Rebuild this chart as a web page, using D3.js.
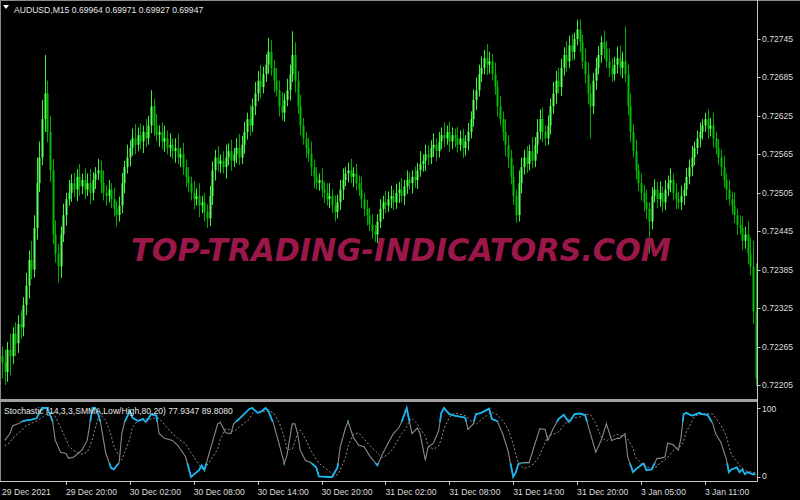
<!DOCTYPE html>
<html>
<head>
<meta charset="utf-8">
<script src="https://cdn.jsdelivr.net/npm/d3@7/dist/d3.min.js"></script>
<style>
body { margin: 0; background: #000; }
svg { display: block; }
</style>
</head>
<body>
<svg width="800" height="500"></svg>
<script>
// closes in points above 0.72000 (M15 bars), open = previous close
var closes = [
  240,225,260,250,285,270,300,295,330,360,
  400,385,450,520,560,620,660,600,540,440,
  410,390,440,470,495,505,520,510,530,515,
  525,510,520,505,525,535,540,520,505,500,
  510,495,480,470,485,520,545,560,575,590,
  580,595,585,600,590,610,640,610,595,600,
  585,590,575,580,570,575,560,565,545,530,
  520,505,495,500,485,490,475,465,500,540,
  560,550,555,545,560,570,555,565,575,560,
  580,600,620,610,640,660,680,670,690,705,
  725,700,680,665,640,630,650,665,690,720,
  680,640,610,590,575,565,545,530,520,525,
  510,505,495,500,485,475,490,510,525,535,
  540,530,535,520,510,495,480,470,455,445,
  440,460,480,490,485,495,500,490,505,510,
  500,515,525,520,530,525,540,550,555,565,
  560,575,580,570,585,595,590,600,585,595,
  590,580,590,575,585,600,620,650,665,690,
  700,715,705,710,690,670,640,620,600,580,
  560,530,500,470,520,545,560,550,570,555,
  580,600,620,600,590,610,640,660,680,670,
  700,720,710,735,725,745,760,740,710,690,
  660,640,680,700,720,740,730,710,700,690,
  705,715,700,710,690,640,600,570,540,520,
  505,490,480,460,500,510,495,505,490,510,
  520,525,505,495,490,500,510,530,545,560,
  575,590,600,610,620,605,610,590,575,560,
  545,525,510,495,485,470,455,450,430,440,
  410,390,320,215
];
var wickUp = [
  15,20,12,25,10,18,14,22,12,20, 15,30,20,40,25,30,60,20,25,18,
  22,15,12,18,10,20,14,16,12,20, 10,18,15,22,12,10,18,15,20,12,
  15,10,18,12,14,16,10,20,12,15, 22,12,18,10,20,15,25,12,18,10,
  15,20,12,18,10,15,22,10,18,12, 15,10,18,12,20,10,15,12,16,14,
  12,18,10,15,20,12,18,10,15,22, 14,16,10,22,12,18,15,25,12,16,
  22,18,12,20,15,22,10,18,15,37, 20,15,18,12,10,16,20,12,15,10,
  18,12,15,20,10,16,12,15,18,10, 12,18,10,15,12,20,10,14,12,16,
  10,12,15,10,18,12,16,10,14,12, 18,10,15,12,10,16,12,20,10,15,
  14,12,18,10,15,12,20,10,16,12, 10,18,12,15,10,14,12,16,20,15,
  18,13,22,15,12,18,10,16,12,20, 15,12,18,10,20,15,12,18,10,22,
  12,20,15,18,10,16,12,18,15,20, 14,12,22,15,18,10,15,16,12,20,
  18,15,12,16,14,10,18,12,20,15, 12,18,20,15,55,15,20,12,18,10,
  15,12,20,10,14,16,12,18,10,15, 12,18,10,15,12,16,10,14,12,18,
  10,12,15,10,10,15,12,20,10,14, 12,18,10,15,12,20,10,15,18,12,
  20,25,40,75
];
var wickDn = [
  25,20,15,30,12,20,15,18,14,16, 20,15,12,18,14,12,20,16,18,15,
  14,25,18,12,16,10,14,12,18,15, 12,15,10,18,12,14,10,16,12,15,
  10,14,12,18,10,12,16,10,14,12, 15,10,12,18,14,10,12,16,10,18,
  12,16,10,14,12,18,10,15,12,16, 14,12,16,10,18,12,15,15,12,14,
  16,12,14,10,18,12,16,10,14,12, 10,14,12,16,10,14,12,18,10,12,
  14,12,18,10,16,12,14,10,16,12, 18,12,15,10,16,12,14,18,10,12,
  12,16,10,14,12,15,10,12,16,10, 14,10,16,12,10,14,12,16,10,12,
  12,14,10,16,12,10,14,12,10,16, 10,14,12,10,16,12,14,10,12,16,
  12,10,14,16,10,12,14,10,16,12, 14,12,10,16,12,14,10,12,16,10,
  12,10,16,14,10,12,16,10,14,18, 16,12,14,12,10,16,12,14,10,12,
  10,14,12,16,12,10,14,12,16,10, 14,12,16,10,14,12,10,16,12,14,
  16,50,12,14,10,12,16,10,14,12, 10,14,12,16,12,14,16,10,14,12,
  12,14,16,50,12,10,14,12,16,12, 10,14,12,16,10,12,14,10,12,14,
  12,10,14,12,10,16,12,14,10,12, 14,12,16,10,14,12,16,10,14,12,
  16,14,20,12
];
var firstOpen = 250;

var priceTicks = [0.72205, 0.72265, 0.72325, 0.72385, 0.72445, 0.72505, 0.72565, 0.72625, 0.72685, 0.72745];
var timeBars = [0, 24, 48, 72, 96, 120, 144, 168, 192, 216, 240, 264];
var timeLabels = ['29 Dec 2021', '29 Dec 20:00', '30 Dec 02:00', '30 Dec 08:00', '30 Dec 14:00', '30 Dec 20:00',
                  '31 Dec 02:00', '31 Dec 08:00', '31 Dec 14:00', '31 Dec 20:00', '3 Jan 05:00', '3 Jan 11:00'];

// stochastic read at these bar positions
var stochBars = [1,3,4,6,8,9,11,13,15,17,19,20,22,24,25,27,30,32,33,34,35,36,37,39,41,42,44,45,46,48,49,51,53,54,56,58,59,61,64,66,69,71,74,75,76,
  81,82,84,86,87,89,93,94,96,97,99,100,102,104,106,107,109,110,111,112,114,116,118,119,123,124,126,127,129,130,132,134,136,138,141,143,145,147,149,
  150,152,153,154,156,157,159,160,162,164,165,166,168,170,174,175,177,178,180,183,184,186,188,190,192,193,194,196,198,
  200,202,204,205,207,209,211,213,215,217,219,221,223,225,227,229,231,232,234,235,237,238,241,242,244,246,247,249,
  250,252,254,255,256,257,259,260,262,263,265,267,268,270,272,273,274,276,277,278,279,280,282,283];
var stochMain = [53,63,74,77,81,82,83,85,100,100,81,53,36,34,27,29,39,53,77,100,100,93,79,34,13,11,21,63,79,96,86,81,84,79,91,89,63,56,53,46,29,0,10,17,10,
  77,79,64,63,77,84,99,100,93,94,100,96,77,49,20,31,77,77,63,39,24,21,14,1,0,0,14,43,71,80,57,46,44,31,17,34,49,63,71,
  79,100,81,63,71,63,24,43,49,67,93,100,91,89,86,69,77,91,93,99,84,81,63,39,0,7,20,21,21,
  46,70,69,53,70,84,90,79,91,92,90,63,36,53,77,53,56,56,63,29,7,11,20,10,11,27,27,29,
  49,47,39,56,91,93,89,90,93,91,90,77,63,50,27,7,11,14,7,11,4,7,4,4];
var stochSignal = [45,50,56,63,70,74,78,81,86,92,94,88,72,55,45,38,33,36,44,56,70,84,90,82,60,45,30,25,35,55,72,82,85,84,84,86,85,76,63,56,48,35,18,12,11,
  40,55,70,68,66,72,84,92,96,95,95,96,93,80,58,40,40,52,63,68,55,38,26,20,8,4,3,10,28,45,62,64,55,46,35,28,33,42,55,
  62,72,82,85,77,70,60,45,40,45,55,70,86,93,89,86,78,76,83,92,94,90,82,70,48,32,20,12,15,
  20,32,50,60,62,65,75,84,86,87,91,90,78,58,52,58,62,60,58,55,42,28,16,15,13,15,20,25,
  28,38,43,45,52,65,80,88,90,91,92,91,86,75,60,45,32,22,17,13,10,8,7,6];

var svg = d3.select('svg');
var W = 800, H = 500;
var axisX = 757.5;

svg.append('rect').attr('width', W).attr('height', H).attr('fill', '#000');

var xScale = d3.scaleLinear().domain([0, 283]).range([2, 755.5]);
var yScale = d3.scaleLinear().domain([0.721831, 0.728059]).range([399, 0]);
var sScale = d3.scaleLinear().domain([0, 100]).range([477, 408]);

// build candles
var bars = closes.map(function(c, i) {
  var o = i === 0 ? firstOpen : closes[i - 1];
  return {
    i: i,
    o: 0.72 + o / 1e5,
    c: 0.72 + c / 1e5,
    h: 0.72 + (Math.max(o, c) + wickUp[i]) / 1e5,
    l: 0.72 + (Math.min(o, c) - wickDn[i]) / 1e5
  };
});

var main = svg.append('g');
main.append('clipPath').attr('id', 'mainclip')
  .append('rect').attr('x', 1).attr('y', 0).attr('width', axisX - 1).attr('height', 399);
var cg = main.append('g').attr('clip-path', 'url(#mainclip)');

cg.selectAll('.wick')
  .data(bars)
  .enter().append('line')
  .attr('class', 'wick')
  .attr('x1', function(d) { return Math.round(xScale(d.i)) + 0.5; })
  .attr('x2', function(d) { return Math.round(xScale(d.i)) + 0.5; })
  .attr('y1', function(d) { return yScale(d.h); })
  .attr('y2', function(d) { return yScale(d.l); })
  .attr('stroke', function(d) { return d.c >= d.o ? '#33f533' : '#00a800'; })
  .attr('stroke-width', 1);

cg.selectAll('.body')
  .data(bars)
  .enter().append('rect')
  .attr('class', 'body')
  .attr('x', function(d) { return Math.round(xScale(d.i)) - 0.5; })
  .attr('width', 2)
  .attr('y', function(d) { return yScale(Math.max(d.o, d.c)); })
  .attr('height', function(d) { return Math.max(1, Math.abs(yScale(d.o) - yScale(d.c))); })
  .attr('fill', function(d) { return d.c >= d.o ? '#5cff5c' : '#00c000'; });

// watermark
svg.append('text')
  .attr('x', 131).attr('y', 261)
  .attr('textLength', 540).attr('lengthAdjust', 'spacingAndGlyphs')
  .style('font-family', 'DejaVu Sans')
  .style('font-weight', 'bold')
  .style('font-style', 'italic')
  .style('font-size', '32px')
  .attr('fill', '#9a1849')
  .text('TOP-TRADING-INDICATORS.COM');

// window borders
svg.append('line').attr('x1', 0).attr('x2', W).attr('y1', 0.5).attr('y2', 0.5).attr('stroke', '#8a8a8a');
svg.append('line').attr('x1', 0.5).attr('x2', 0.5).attr('y1', 0).attr('y2', 481).attr('stroke', '#8a8a8a');
svg.append('rect').attr('x', 0).attr('y', 399).attr('width', axisX).attr('height', 3).attr('fill', '#a0a0a0');
svg.append('line').attr('x1', axisX).attr('x2', axisX).attr('y1', 0).attr('y2', 481.5).attr('stroke', '#c8c8c8');
svg.append('line').attr('x1', 0).attr('x2', axisX).attr('y1', 481.5).attr('y2', 481.5).attr('stroke', '#c8c8c8');

var labelFont = 'Liberation Sans, Arial, sans-serif';

// header
svg.append('path').attr('d', 'M3,5 L9,5 L6,9 Z').attr('fill', '#fff');
svg.append('text').attr('x', 14).attr('y', 12.5)
  .style('font-family', labelFont).style('font-size', '8.6px')
  .attr('fill', '#e6e6e6')
  .text('AUDUSD,M15  0.69964 0.69971 0.69927 0.69947');

// price axis
var pa = svg.append('g');
pa.selectAll('line').data(priceTicks).enter().append('line')
  .attr('x1', axisX).attr('x2', axisX + 3)
  .attr('y1', function(d) { return Math.round(yScale(d)) + 0.5; })
  .attr('y2', function(d) { return Math.round(yScale(d)) + 0.5; })
  .attr('stroke', '#c8c8c8');
pa.selectAll('text').data(priceTicks).enter().append('text')
  .attr('x', 762)
  .attr('y', function(d) { return yScale(d) + 3; })
  .style('font-family', labelFont).style('font-size', '8.6px')
  .attr('fill', '#dcdcdc')
  .text(function(d) { return d.toFixed(5); });

// time axis
var ta = svg.append('g');
ta.selectAll('line').data(timeBars.slice(1)).enter().append('line')
  .attr('x1', function(d) { return Math.round(xScale(d)) + 0.5; })
  .attr('x2', function(d) { return Math.round(xScale(d)) + 0.5; })
  .attr('y1', 481).attr('y2', 485)
  .attr('stroke', '#c8c8c8');
ta.selectAll('text').data(timeBars).enter().append('text')
  .attr('x', function(d) { return xScale(d); })
  .attr('y', 494.5)
  .style('font-family', labelFont).style('font-size', '8.6px')
  .attr('fill', '#dcdcdc')
  .text(function(d, i) { return timeLabels[i]; });

// stochastic pane
var st = svg.append('g');
st.append('clipPath').attr('id', 'stclip')
  .append('rect').attr('x', 1).attr('y', 402).attr('width', axisX - 1).attr('height', 79);
var cp = st.append('clipPath').attr('id', 'zoneclip');
cp.append('rect').attr('x', 0).attr('y', 400).attr('width', axisX).attr('height', sScale(80) - 400);
cp.append('rect').attr('x', 0).attr('y', sScale(20)).attr('width', axisX).attr('height', 481 - sScale(20));

var mainPts = stochBars.map(function(b, i) { return [b, stochMain[i]]; });
var sigPts = stochBars.map(function(b, i) { return [b, stochSignal[i]]; });
var line = d3.line().x(function(d) { return xScale(d[0]); }).y(function(d) { return sScale(d[1]); });

var sg = st.append('g').attr('clip-path', 'url(#stclip)');
sg.append('path').attr('d', line(sigPts))
  .attr('fill', 'none').attr('stroke', '#8c8c8c').attr('stroke-width', 1)
  .attr('stroke-dasharray', '2,2');
sg.append('path').attr('d', line(mainPts))
  .attr('fill', 'none').attr('stroke', '#8a8a8a').attr('stroke-width', 1.1);
sg.append('g').attr('clip-path', 'url(#zoneclip)')
  .append('path').attr('d', line(mainPts))
  .attr('fill', 'none').attr('stroke', '#19b5f0').attr('stroke-width', 1.8);

st.append('text').attr('x', 4).attr('y', 414)
  .style('font-family', labelFont).style('font-size', '8.6px')
  .attr('fill', '#e6e6e6')
  .text('Stochastic (14,3,3,SMMA,Low/High,80,20) 77.9347 89.8080');

[100, 0].forEach(function(v) {
  st.append('line').attr('x1', axisX).attr('x2', axisX + 3)
    .attr('y1', Math.round(sScale(v)) + 0.5).attr('y2', Math.round(sScale(v)) + 0.5)
    .attr('stroke', '#c8c8c8');
  st.append('text').attr('x', 762).attr('y', (v === 100 ? sScale(v) + 4 : sScale(v) + 2))
    .style('font-family', labelFont).style('font-size', '8.6px')
    .attr('fill', '#dcdcdc')
    .text(v);
});
</script>
</body>
</html>
